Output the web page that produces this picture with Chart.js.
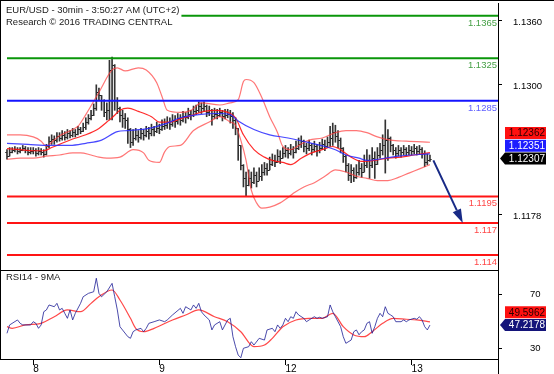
<!DOCTYPE html>
<html>
<head>
<meta charset="utf-8">
<script src="https://cdn.jsdelivr.net/npm/chart.js@4.4.1/dist/chart.umd.min.js"></script>
<style>
  body { margin: 0; background: #fff; }
  #wrap { position: relative; width: 554px; height: 374px; overflow: hidden; background: #fff; }
  #priceBox { position: absolute; left: 0; top: 0; width: 554px; height: 271px; }
  #rsiBox { position: absolute; left: 0; top: 270px; width: 554px; height: 104px; }
</style>
</head>
<body>
<div id="wrap">
  <div id="priceBox"><canvas id="priceChart"></canvas></div>
  <div id="rsiBox"><canvas id="rsiChart"></canvas></div>
</div>
<script>
// EUR/USD 30 min bars (bar 0 = 7 Sep 19:00, bar 161 = 13 Sep 03:30)
const barOpen = [1.1237,1.1233,1.1237,1.1239,1.1240,1.1238,1.1239,1.1241,1.1239,1.1237,
  1.1238,1.1239,1.1236,1.1238,1.1237,1.1235,1.1242,1.1247,1.1249,1.1248,
  1.1252,1.1250,1.1253,1.1251,1.1255,1.1253,1.1256,1.1254,1.1258,1.1257,
  1.1260,1.1265,1.1269,1.1272,1.1278,1.1293,1.1290,1.1286,1.1274,1.1276,
  1.1314,1.1319,1.1286,1.1278,1.1272,1.1269,1.1267,1.1258,1.1246,1.1250,
  1.1253,1.1251,1.1255,1.1253,1.1257,1.1255,1.1258,1.1257,1.1259,1.1258,
  1.1261,1.1262,1.1265,1.1263,1.1267,1.1266,1.1269,1.1267,1.1271,1.1270,
  1.1273,1.1272,1.1275,1.1276,1.1280,1.1278,1.1280,1.1274,1.1276,1.1271,
  1.1273,1.1272,1.1274,1.1271,1.1272,1.1273,1.1271,1.1267,1.1259,1.1243,
  1.1225,1.1212,1.1206,1.1212,1.1209,1.1215,1.1210,1.1214,1.1218,1.1222,
  1.1220,1.1226,1.1229,1.1227,1.1233,1.1231,1.1236,1.1239,1.1236,1.1240,
  1.1237,1.1241,1.1244,1.1247,1.1242,1.1241,1.1243,1.1240,1.1242,1.1239,
  1.1241,1.1244,1.1242,1.1246,1.1250,1.1256,1.1252,1.1248,1.1241,1.1233,
  1.1225,1.1215,1.1220,1.1213,1.1218,1.1222,1.1218,1.1225,1.1229,1.1225,
  1.1231,1.1226,1.1234,1.1239,1.1243,1.1248,1.1250,1.1243,1.1239,1.1236,
  1.1239,1.1237,1.1240,1.1237,1.1239,1.1238,1.1241,1.1238,1.1240,1.1236,
  1.1227,1.1229];
const barHigh = [1.1239,1.1241,1.1241,1.1242,1.1241,1.1241,1.1243,1.1242,1.1241,1.1241,
  1.1241,1.1240,1.1241,1.1240,1.1239,1.1244,1.1251,1.1253,1.1252,1.1255,
  1.1255,1.1257,1.1256,1.1258,1.1257,1.1259,1.1258,1.1261,1.1260,1.1264,
  1.1269,1.1272,1.1276,1.1282,1.1300,1.1297,1.1290,1.1286,1.1283,1.1323,
  1.1326,1.1319,1.1288,1.1279,1.1276,1.1273,1.1269,1.1259,1.1258,1.1259,
  1.1257,1.1259,1.1258,1.1261,1.1260,1.1263,1.1261,1.1265,1.1263,1.1267,
  1.1268,1.1270,1.1269,1.1272,1.1271,1.1273,1.1272,1.1275,1.1274,1.1278,
  1.1276,1.1280,1.1281,1.1284,1.1283,1.1284,1.1281,1.1280,1.1277,1.1278,
  1.1277,1.1278,1.1276,1.1277,1.1277,1.1276,1.1274,1.1269,1.1259,1.1243,
  1.1225,1.1218,1.1220,1.1218,1.1222,1.1218,1.1222,1.1225,1.1227,1.1226,
  1.1232,1.1235,1.1234,1.1239,1.1238,1.1241,1.1243,1.1241,1.1244,1.1242,
  1.1247,1.1250,1.1252,1.1248,1.1245,1.1248,1.1245,1.1247,1.1244,1.1246,
  1.1249,1.1248,1.1251,1.1261,1.1264,1.1262,1.1257,1.1250,1.1241,1.1234,
  1.1226,1.1225,1.1222,1.1225,1.1229,1.1226,1.1234,1.1239,1.1234,1.1241,
  1.1237,1.1241,1.1245,1.1253,1.1267,1.1258,1.1251,1.1244,1.1241,1.1243,
  1.1241,1.1243,1.1241,1.1243,1.1242,1.1244,1.1242,1.1243,1.1241,1.1238,
  1.1235,1.1234];
const barLow = [1.1230,1.1233,1.1236,1.1237,1.1235,1.1236,1.1238,1.1236,1.1234,1.1235,
  1.1235,1.1233,1.1234,1.1234,1.1232,1.1234,1.1241,1.1244,1.1244,1.1246,
  1.1247,1.1248,1.1248,1.1249,1.1250,1.1251,1.1251,1.1253,1.1254,1.1256,
  1.1258,1.1263,1.1267,1.1271,1.1276,1.1286,1.1276,1.1270,1.1267,1.1267,
  1.1267,1.1276,1.1273,1.1265,1.1260,1.1259,1.1245,1.1241,1.1243,1.1248,
  1.1246,1.1249,1.1248,1.1251,1.1249,1.1252,1.1252,1.1255,1.1254,1.1257,
  1.1258,1.1259,1.1258,1.1261,1.1260,1.1263,1.1262,1.1265,1.1264,1.1268,
  1.1267,1.1270,1.1272,1.1274,1.1273,1.1275,1.1270,1.1271,1.1262,1.1268,
  1.1268,1.1270,1.1266,1.1268,1.1269,1.1264,1.1259,1.1253,1.1229,1.1220,
  1.1204,1.1195,1.1205,1.1203,1.1207,1.1204,1.1210,1.1210,1.1215,1.1215,
  1.1220,1.1224,1.1223,1.1227,1.1226,1.1231,1.1232,1.1231,1.1234,1.1231,
  1.1236,1.1239,1.1241,1.1237,1.1235,1.1238,1.1234,1.1237,1.1233,1.1236,
  1.1239,1.1238,1.1241,1.1242,1.1243,1.1246,1.1241,1.1236,1.1227,1.1218,
  1.1210,1.1208,1.1209,1.1212,1.1215,1.1213,1.1218,1.1222,1.1212,1.1222,
  1.1212,1.1225,1.1231,1.1234,1.1217,1.1229,1.1237,1.1234,1.1231,1.1233,
  1.1232,1.1234,1.1233,1.1234,1.1234,1.1235,1.1234,1.1235,1.1231,1.1223,
  1.1225,1.1228];
const barClose = [1.1233,1.1237,1.1239,1.1240,1.1238,1.1239,1.1241,1.1239,1.1237,1.1238,
  1.1239,1.1236,1.1238,1.1237,1.1235,1.1242,1.1247,1.1249,1.1248,1.1252,
  1.1250,1.1253,1.1251,1.1255,1.1253,1.1256,1.1254,1.1258,1.1257,1.1260,
  1.1265,1.1269,1.1272,1.1278,1.1293,1.1290,1.1286,1.1274,1.1276,1.1314,
  1.1319,1.1286,1.1278,1.1272,1.1269,1.1267,1.1258,1.1246,1.1250,1.1253,
  1.1251,1.1255,1.1253,1.1257,1.1255,1.1258,1.1257,1.1259,1.1258,1.1261,
  1.1262,1.1265,1.1263,1.1267,1.1266,1.1269,1.1267,1.1271,1.1270,1.1273,
  1.1272,1.1275,1.1276,1.1280,1.1278,1.1280,1.1274,1.1276,1.1271,1.1273,
  1.1272,1.1274,1.1271,1.1272,1.1273,1.1271,1.1267,1.1259,1.1243,1.1225,
  1.1212,1.1206,1.1212,1.1209,1.1215,1.1210,1.1214,1.1218,1.1222,1.1220,
  1.1226,1.1229,1.1227,1.1233,1.1231,1.1236,1.1239,1.1236,1.1240,1.1237,
  1.1241,1.1244,1.1247,1.1242,1.1241,1.1243,1.1240,1.1242,1.1239,1.1241,
  1.1244,1.1242,1.1246,1.1250,1.1256,1.1252,1.1248,1.1241,1.1233,1.1225,
  1.1215,1.1220,1.1213,1.1218,1.1222,1.1218,1.1225,1.1229,1.1225,1.1231,
  1.1226,1.1234,1.1239,1.1243,1.1248,1.1250,1.1243,1.1239,1.1236,1.1239,
  1.1237,1.1240,1.1237,1.1239,1.1238,1.1241,1.1238,1.1240,1.1236,1.1227,
  1.1229,1.12307];

// bollinger bands and moving average, sampled at these bars
const bbUpperBars = [0,5,10,13,15,17,20,25,27,30,35,40,42,45,50,53,57,59,61,66,70,74,81,85,88,90,91,94,97,100,103,105,108,111,115,120,125,129,133,137,141,146,152,161];
const bbUpperValues = [1.1253,1.1253,1.1251,1.1247,1.1242,1.1246,1.1252,1.1258,1.1261,1.1272,1.1293,1.1314,1.1316,1.1313,1.1316,1.1314,1.1302,1.1289,1.1276,1.1274,1.1276,1.1283,1.1281,1.1283,1.1286,1.1303,1.1305,1.1302,1.1288,1.1270,1.1255,1.1242,1.1239,1.1243,1.1248,1.1250,1.1255,1.1257,1.1257,1.1255,1.1251,1.1248,1.1247,1.1246];
const bbMidBars = [0,5,10,14,17,20,25,30,35,38,40,43,46,50,55,58,62,66,70,75,80,85,87,90,94,98,101,105,108,112,116,120,124,127,131,135,140,145,150,155,161];
const bbMidValues = [1.1240,1.1239,1.1238,1.1238,1.1241,1.1244,1.1249,1.1253,1.1259,1.1265,1.1269,1.1276,1.1278,1.1275,1.1270,1.1265,1.1265,1.1268,1.1271,1.1275,1.1276,1.1273,1.1269,1.1253,1.1239,1.1232,1.1229,1.1227,1.1225,1.1231,1.1236,1.1239,1.1242,1.1239,1.1232,1.1228,1.1229,1.1231,1.1232,1.1234,1.12362];
const bbLowBars = [0,5,10,15,20,25,28,32,35,38,43,48,52,54,58,60,62,66,71,77,81,85,87,89,91,93,95,97,100,104,107,109,113,117,121,125,129,133,137,141,145,149,153,157,161];
const bbLowValues = [1.1230,1.1231,1.1231,1.1233,1.1234,1.1236,1.1236,1.1234,1.1232,1.1231,1.1232,1.1239,1.1236,1.1229,1.1227,1.1237,1.1242,1.1243,1.1257,1.1265,1.1270,1.1265,1.1262,1.1248,1.1229,1.1201,1.1189,1.1184,1.1185,1.1189,1.1194,1.1198,1.1204,1.1208,1.1214,1.1220,1.1218,1.1214,1.1212,1.1210,1.1210,1.1213,1.1217,1.1221,1.1225];
const maBars = [0,8,16,24,30,36,42,46,54,61,66,73,80,85,88,94,100,107,116,121,125,129,134,137,149,161];
const maValues = [1.1245,1.1244,1.1243,1.1243,1.1245,1.1248,1.1256,1.1257,1.1259,1.1264,1.1269,1.1272,1.1273,1.1272,1.1266,1.1258,1.1253,1.1250,1.1245,1.1242,1.1239,1.1234,1.1231,1.1229,1.1233,1.12351];

// RSI 14 and its 9 period average
const rsiBars = [0,1,4,5,6,9,10,11,12,13,14,15,16,18,19,20,21,22,23,24,25,26,28,29,31,33,34,35,36,38,40,41,42,43,46,47,48,49,51,52,53,54,56,58,60,61,63,66,67,68,70,71,72,73,74,75,77,78,79,81,82,84,85,86,87,88,89,90,92,93,94,96,98,99,101,102,103,104,105,106,107,108,109,110,111,113,114,115,117,118,119,120,122,123,124,125,127,128,129,131,132,133,134,135,136,137,138,139,140,141,142,143,144,145,146,147,148,150,151,152,153,155,156,157,158,159,160,161];
const rsiValues = [41.1,47.3,51.0,48.5,47.3,47.3,49.7,48.5,44.8,47.3,57.1,58.4,62.1,60.8,63.3,58.4,59.6,55.9,52.2,58.4,51.0,55.9,63.3,68.2,70.7,71.9,81.9,70.7,68.2,71.9,78.1,68.2,58.4,46.0,38.6,37.4,42.3,43.6,44.8,42.3,44.8,48.5,49.7,51.0,49.7,51.0,54.7,59.6,55.9,60.8,58.4,62.1,59.6,63.3,57.1,54.7,51.0,43.6,47.3,49.7,43.6,51.0,52.2,38.6,31.2,25.0,23.0,30.0,31.2,34.9,32.4,37.4,36.1,43.6,44.8,42.3,47.3,44.8,47.3,52.2,49.7,53.4,52.2,57.1,54.7,52.2,49.7,51.0,53.4,52.2,53.0,52.2,53.4,62.1,57.1,53.4,46.0,38.6,33.7,36.1,42.3,43.6,40.0,42.3,43.6,48.5,49.7,41.1,46.0,52.2,55.9,53.4,60.8,55.9,54.7,53.4,49.7,49.7,51.0,49.7,51.0,52.2,51.5,53.4,51.0,46.0,43.6,47.2178];
const rsiMaBars = [0,2,7,13,18,23,28,32,35,40,43,47,49,52,56,63,68,73,79,84,89,94,98,101,105,110,115,120,124,128,132,136,139,143,147,152,156,161];
const rsiMaValues = [46.0,44.8,47.3,48.5,53.4,58.4,57.1,63.3,68.2,73.2,65.8,52.2,44.8,42.3,44.8,51.0,54.7,58.4,53.4,49.7,42.3,31.2,32.4,37.4,46.0,51.0,52.2,52.2,55.9,46.0,39.9,38.6,42.3,48.5,52.2,51.5,51.0,49.5962];

// support / resistance levels and the target arrow
const levelPrices = [1.1365, 1.1325, 1.1285, 1.1195, 1.117, 1.114];
const levelLabels = ['1.1365', '1.1325', '1.1285', '1.1195', '1.117', '1.114'];
const arrowBars = [162.3, 173.5];
const arrowPrices = [1.1229, 1.1170];

const dayTickBars = [10, 58, 106, 154];
const dayLabels = ['8', '9', '12', '13'];
const priceTicks = [1.1178, 1.1300, 1.1360];
const rsiTicks = [30, 70];

const levelLineColors = ['#0a960a', '#0a960a', '#1414ff', '#ff1414', '#ff1414', '#ff1414'];
const levelTextColors = ['#46a046', '#46a046', '#6060ff', '#ff4848', '#ff4848', '#ff4848'];

const FONT = '"Liberation Sans", Arial, sans-serif';
Chart.defaults.font.family = FONT;
Chart.defaults.font.size = 9.5;
Chart.defaults.color = '#000';
Chart.defaults.animation = false;

const X_MIN = -1.9, X_MAX = 186.9;
const pts = (xs, ys) => xs.map((b, k) => ({x: b, y: ys[k]}));
const last = a => a[a.length - 1];
// no extra room for tick labels, the panels are sized by hand
const noPad = s => { s.paddingTop = 0; s.paddingBottom = 0; s.paddingLeft = 0; s.paddingRight = 0; };

// stacked value tags at the right side, first one sits on its value with an arrow
function drawTags(ctx, axisLeft, tags) {
  let prev = null;
  ctx.font = '10px ' + FONT;
  ctx.textAlign = 'right';
  ctx.textBaseline = 'middle';
  tags.forEach((t, k) => {
    let ym = t.y;
    if (prev !== null) ym = Math.min(ym, prev - 12.7);
    prev = ym;
    const l = axisLeft + 7, r = axisLeft + 48, top = ym - 6, bot = ym + 6;
    ctx.fillStyle = t.bg;
    ctx.beginPath();
    if (k === 0) {
      ctx.moveTo(axisLeft + 2, ym);
      ctx.lineTo(l, top);
    } else {
      ctx.moveTo(l, top);
    }
    ctx.lineTo(r, top);
    ctx.lineTo(r, bot);
    ctx.lineTo(l, bot);
    ctx.closePath();
    ctx.fill();
    ctx.fillStyle = t.fg;
    ctx.fillText(t.text, r - 1, ym + 0.5);
  });
}

const pricePlugin = {
  id: 'pricePlugin',
  beforeDatasetsDraw(chart) {
    const {ctx, chartArea: ca, scales: {x, y}} = chart;
    ctx.save();
    ctx.beginPath(); ctx.rect(ca.left, ca.top, ca.width, ca.height); ctx.clip();
    ctx.strokeStyle = '#1e1e1e';
    ctx.lineWidth = 1;
    ctx.beginPath();
    barOpen.forEach((o, i) => {
      const px = x.getPixelForValue(i);
      const yo = Math.round(y.getPixelForValue(o)) + 0.5;
      const yc = Math.round(y.getPixelForValue(barClose[i])) + 0.5;
      ctx.moveTo(px - 1.7, yo); ctx.lineTo(px, yo);
      ctx.moveTo(px, yc); ctx.lineTo(px + 1.7, yc);
    });
    ctx.stroke();
    ctx.restore();
  },
  afterDatasetsDraw(chart) {
    const {ctx, chartArea: ca, scales: {x, y}} = chart;
    ctx.save();
    ctx.beginPath(); ctx.rect(ca.left, ca.top, ca.width, ca.height); ctx.clip();
    // levels
    ctx.font = '9.5px ' + FONT;
    ctx.textAlign = 'right';
    ctx.textBaseline = 'top';
    levelPrices.forEach((p, k) => {
      const py = y.getPixelForValue(p);
      ctx.strokeStyle = levelLineColors[k];
      ctx.lineWidth = 2;
      ctx.beginPath();
      ctx.moveTo(x.getPixelForValue(0), py);
      ctx.lineTo(ca.right, py);
      ctx.stroke();
      ctx.fillStyle = levelTextColors[k];
      ctx.fillText(levelLabels[k], ca.right - 1, py + 2.5);
    });
    // target arrow
    const ax0 = x.getPixelForValue(arrowBars[0]), ay0 = y.getPixelForValue(arrowPrices[0]);
    const ax1 = x.getPixelForValue(arrowBars[1]), ay1 = y.getPixelForValue(arrowPrices[1]);
    const ang = Math.atan2(ay1 - ay0, ax1 - ax0);
    const head = 14, half = 4.5;
    const bx = ax1 - head * Math.cos(ang), by = ay1 - head * Math.sin(ang);
    ctx.strokeStyle = ctx.fillStyle = '#182a86';
    ctx.lineWidth = 2;
    ctx.beginPath(); ctx.moveTo(ax0, ay0); ctx.lineTo(bx, by); ctx.stroke();
    ctx.beginPath();
    ctx.moveTo(ax1, ay1);
    ctx.lineTo(bx + half * Math.sin(ang), by - half * Math.cos(ang));
    ctx.lineTo(bx - half * Math.sin(ang), by + half * Math.cos(ang));
    ctx.closePath(); ctx.fill();
    ctx.restore();
    // header
    ctx.save();
    ctx.font = '9.5px ' + FONT;
    const h1 = 'EUR/USD - 30min - 3:50:27 AM (UTC+2)';
    const h2 = 'Research \u00a9 2016 TRADING CENTRAL';
    const w = Math.max(ctx.measureText(h1).width, ctx.measureText(h2).width);
    ctx.fillStyle = '#fff';
    ctx.fillRect(ca.left, ca.top, w + 6, 24);
    ctx.fillStyle = '#1a1a1a';
    ctx.textAlign = 'left';
    ctx.textBaseline = 'middle';
    ctx.fillText(h1, ca.left + 4, 10.5);
    ctx.fillText(h2, ca.left + 4, 22.5);
    ctx.restore();
  },
  afterDraw(chart) {
    const {ctx, chartArea: ca, scales: {y}} = chart;
    ctx.save();
    ctx.strokeStyle = '#000';
    ctx.lineWidth = 1;
    ctx.beginPath();
    ctx.moveTo(0, 0.5); ctx.lineTo(chart.width, 0.5);
    ctx.moveTo(0.5, 0); ctx.lineTo(0.5, chart.height);
    ctx.moveTo(0, ca.bottom + 0.5); ctx.lineTo(ca.right + 1, ca.bottom + 0.5);
    ctx.stroke();
    drawTags(ctx, ca.right, [
      {y: y.getPixelForValue(last(barClose)), text: last(barClose).toFixed(5), bg: '#000', fg: '#fff'},
      {y: y.getPixelForValue(last(maValues)), text: last(maValues).toFixed(5), bg: '#1e1eff', fg: '#fff'},
      {y: y.getPixelForValue(last(bbMidValues)), text: last(bbMidValues).toFixed(5), bg: '#ff1010', fg: '#2a0000'}
    ]);
    ctx.restore();
  }
};

new Chart(document.getElementById('priceChart'), {
  type: 'bar',
  data: {
    datasets: [
      {type: 'line', label: 'MA', data: pts(maBars, maValues), borderColor: 'rgba(40,40,255,0.85)', borderWidth: 1.2, pointRadius: 0, tension: 0.4, cubicInterpolationMode: 'monotone'},
      {type: 'line', label: 'BB mid', data: pts(bbMidBars, bbMidValues), borderColor: 'rgba(255,20,20,0.9)', borderWidth: 1.2, pointRadius: 0, tension: 0.4, cubicInterpolationMode: 'monotone'},
      {type: 'line', label: 'BB up', data: pts(bbUpperBars, bbUpperValues), borderColor: 'rgba(255,60,60,0.7)', borderWidth: 1.2, pointRadius: 0, tension: 0.4, cubicInterpolationMode: 'monotone'},
      {type: 'line', label: 'BB low', data: pts(bbLowBars, bbLowValues), borderColor: 'rgba(255,60,60,0.7)', borderWidth: 1.2, pointRadius: 0, tension: 0.4, cubicInterpolationMode: 'monotone'},
      {type: 'bar', label: 'EUR/USD', data: barClose.map((c, i) => ({x: i, y: [barLow[i], barHigh[i]]})), backgroundColor: '#333', barThickness: 1}
    ]
  },
  options: {
    responsive: true,
    maintainAspectRatio: false,
    devicePixelRatio: 1,
    layout: {padding: {left: 2, top: 3, right: 0, bottom: 1}},
    plugins: {legend: {display: false}, tooltip: {enabled: false}},
    scales: {
      x: {type: 'linear', min: X_MIN, max: X_MAX, offset: false, display: false},
      y: {
        type: 'linear', position: 'right', min: 1.11259, max: 1.13769,
        afterFit: s => { s.width = 56; noPad(s); },
        afterBuildTicks: s => { s.ticks = priceTicks.map(v => ({value: v})); },
        grid: {drawOnChartArea: false, color: '#000', tickLength: 4},
        border: {color: '#000'},
        ticks: {padding: 11, labelOffset: 1.5, color: '#000', callback: v => v.toFixed(4)}
      }
    }
  },
  plugins: [pricePlugin]
});

const rsiPlugin = {
  id: 'rsiPlugin',
  afterDraw(chart) {
    const {ctx, chartArea: ca, scales: {y}} = chart;
    ctx.save();
    ctx.strokeStyle = '#000';
    ctx.lineWidth = 1;
    ctx.beginPath();
    ctx.moveTo(0.5, 0); ctx.lineTo(0.5, ca.bottom);
    ctx.moveTo(ca.right + 0.5, 0); ctx.lineTo(ca.right + 0.5, chart.height);
    ctx.moveTo(0, 0.5); ctx.lineTo(ca.right, 0.5);
    ctx.moveTo(0, ca.bottom + 0.5); ctx.lineTo(ca.right, ca.bottom + 0.5);
    ctx.stroke();
    ctx.font = '9.5px ' + FONT;
    ctx.fillStyle = '#222';
    ctx.textAlign = 'left';
    ctx.textBaseline = 'middle';
    ctx.fillText('RSI14 - 9MA', ca.left + 4, 7.5);
    drawTags(ctx, ca.right, [
      {y: y.getPixelForValue(last(rsiValues)), text: last(rsiValues).toFixed(4), bg: '#14147a', fg: '#fff'},
      {y: y.getPixelForValue(last(rsiMaValues)), text: last(rsiMaValues).toFixed(4), bg: '#ff1010', fg: '#2a0000'}
    ]);
    ctx.restore();
  }
};

new Chart(document.getElementById('rsiChart'), {
  type: 'line',
  data: {
    datasets: [
      {label: 'RSI14', data: pts(rsiBars, rsiValues), borderColor: 'rgba(30,30,150,0.8)', borderWidth: 1, pointRadius: 0, tension: 0},
      {label: '9MA', data: pts(rsiMaBars, rsiMaValues), borderColor: 'rgba(255,40,40,0.85)', borderWidth: 1.2, pointRadius: 0, tension: 0.4, cubicInterpolationMode: 'monotone'}
    ]
  },
  options: {
    responsive: true,
    maintainAspectRatio: false,
    devicePixelRatio: 1,
    layout: {padding: {left: 2, top: 1, right: 0, bottom: 0}},
    plugins: {legend: {display: false}, tooltip: {enabled: false}},
    scales: {
      x: {
        type: 'linear', min: X_MIN, max: X_MAX, offset: false,
        afterFit: s => { s.height = 15; noPad(s); },
        afterBuildTicks: s => { s.ticks = dayTickBars.map(v => ({value: v})); },
        grid: {drawOnChartArea: false, color: '#000', tickLength: 6},
        border: {color: '#000'},
        ticks: {align: 'start', autoSkip: false, maxRotation: 0, padding: -2, color: '#000', font: {size: 10},
          callback: v => dayLabels[dayTickBars.indexOf(v)]}
      },
      y: {
        type: 'linear', position: 'right', min: 22.07, max: 87.26,
        afterFit: s => { s.width = 56; noPad(s); },
        afterBuildTicks: s => { s.ticks = rsiTicks.map(v => ({value: v})); },
        grid: {drawOnChartArea: false, color: '#000', tickLength: 4},
        border: {color: '#000'},
        ticks: {padding: 28, color: '#000', callback: v => String(v)}
      }
    }
  },
  plugins: [rsiPlugin]
});
</script>
</body>
</html>
